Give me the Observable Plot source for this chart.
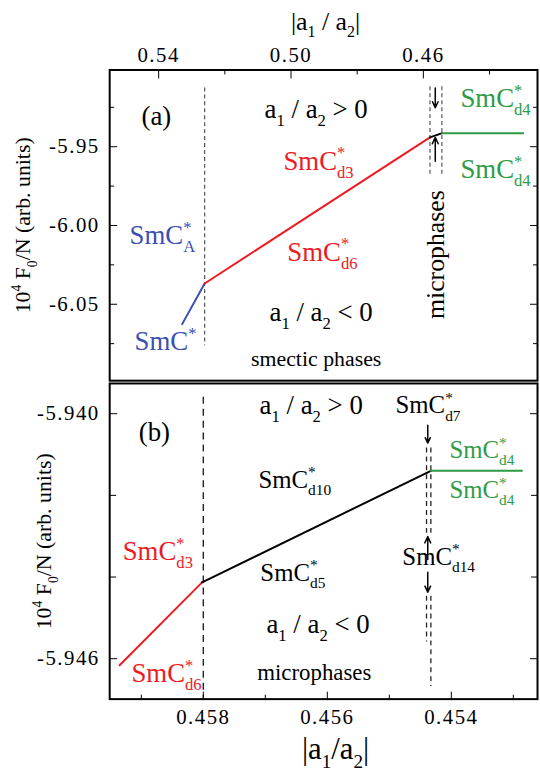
<!DOCTYPE html>
<html><head><meta charset="utf-8">
<script src="https://cdn.jsdelivr.net/npm/d3@7"></script>
<script src="https://cdn.jsdelivr.net/npm/@observablehq/plot@0.6"></script>
<style>
html,body{margin:0;padding:0;background:#fff;overflow:hidden;}
#wrap{position:relative;width:540px;height:774px;overflow:hidden;}
#wrap svg{position:absolute;left:0;}
g[aria-label$="tick label"] text{letter-spacing:1.5px;}
</style></head><body><div id="wrap"></div>
<script>
// ---------- titles ----------
const xTitleA = "|a_{1} / a_{2}|";
const xTitleB = "|a_{1}/a_{2}|";
const yTitle = "10^{4} F_{0}/N (arb. units)";

// ---------- ticks ----------
const aTicksXMajor = [0.54, 0.50, 0.46];
const aTicksXMinor = [0.52, 0.48, 0.44];
const aTicksYMajor = [-5.95, -6.00, -6.05];
const aTicksYMinor = [-5.925, -5.975, -6.025, -6.075];
const bTicksXMajor = [0.458, 0.456, 0.454];
const bTicksXMinor = [0.459, 0.457, 0.455, 0.453];
const bTicksYMajor = [-5.940, -5.946];
const bTicksYMinor = [-5.942, -5.944];

// ---------- panel (a): branches [|a1/a2|, F] ----------
const aBlue  = [[0.5329, -6.0626], [0.5261, -6.0368]];
const aRed   = [[0.5261, -6.0368], [0.4580, -5.9441]];
const aBlack = [[0.4580, -5.9441], [0.4543, -5.9414]];
const aGreen = [[0.4543, -5.9414], [0.4298, -5.9414]];
// dashed boundaries [x, yTop, yBottom]
const aDashes = [[0.5261, -5.9127, -6.0763], [0.4580, -5.9120, -5.9675], [0.4544, -5.9120, -5.9675]];
// arrows [x, yFrom, yTo]
const aArrows = [[0.4564, -5.9127, -5.9253], [0.4564, -5.9593, -5.9441]];
// labels [text, x, y]
const aLabelsRed   = [["SmC^{*}_{d3}", 0.5023, -5.9591], ["SmC^{*}_{d6}", 0.5011, -6.0168]];
const aLabelsBlue  = [["SmC^{*}_{A}", 0.5488, -6.0063], ["SmC^{*}", 0.5473, -6.0735]];
const aLabelsGreen = [["SmC^{*}_{d4}", 0.4488, -5.9192], ["SmC^{*}_{d4}", 0.4488, -5.9643]];
const aLabelsMid   = [["(a)", 0.5407, -5.9310], ["a_{1} / a_{2} > 0", 0.4924, -5.9263], ["a_{1} / a_{2} < 0", 0.4909, -6.0554]];
const aLabelsSmall = [["smectic phases", 0.4924, -6.0846]];
const aLabelsRot   = [["microphases", 0.4564, -6.0185]];

// ---------- panel (b) ----------
const bRed   = [[0.45935, -5.94616], [0.45802, -5.94413]];
const bBlack = [[0.45802, -5.94413], [0.45433, -5.94140]];
const bGreen = [[0.45433, -5.94140], [0.45286, -5.94140]];
const bDashesLong = [[0.45800, -5.93960, -5.94697]];
const bDashesShort = [[0.45440, -5.94084, -5.94301], [0.45433, -5.94084, -5.94301],
                      [0.45440, -5.94447, -5.94559], [0.45433, -5.94447, -5.94668]];
const bArrows = [[0.45438, -5.94028, -5.94072], [0.45438, -5.94357, -5.94301], [0.45438, -5.94388, -5.94437]];
const bLabelsRed   = [["SmC^{*}_{d3}", 0.45930, -5.94337], ["SmC^{*}_{d6}", 0.45916, -5.94636]];
const bLabelsGreen = [["SmC^{*}_{d4}", 0.45403, -5.94089], ["SmC^{*}_{d4}", 0.45403, -5.94187]];
const bLabelsBlack = [["SmC^{*}_{d7}", 0.45490, -5.93980], ["SmC^{*}_{d10}", 0.45711, -5.94162],
                      ["SmC^{*}_{d5}", 0.45708, -5.94390], ["SmC^{*}_{d14}", 0.45479, -5.94350]];
const bLabelsMid   = [["(b)", 0.45879, -5.94045], ["a_{1} / a_{2} > 0", 0.45626, -5.93980], ["a_{1} / a_{2} < 0", 0.45615, -5.94515]];
const bLabelsSmall = [["microphases", 0.45621, -5.94634]];

// ---------- styling ----------
const FONT = '"Liberation Serif", "Times New Roman", Times, serif';
const RED = "#ec1c24", BLUE = "#3b4fb4", GREEN = "#2e9b45";

const px = d => d[0], py = d => d[1];
const line = (data, stroke) => Plot.line(data, {x: px, y: py, stroke, strokeWidth: 2});
const lbl = (data, o) => Plot.text(data, {x: d => d[1], y: d => d[2], text: d => d[0], fontFamily: FONT, ...o});
const dashes = (data, o) => Plot.ruleX(data, {x: d => d[0], y1: d => d[1], y2: d => d[2], ...o});
const arrows = data => Plot.arrow(data, {x1: d => d[0], x2: d => d[0], y1: d => d[1], y2: d => d[2],
  stroke: "black", strokeWidth: 1.5, headLength: 7, headAngle: 50});
const blank = () => "";
const title = (s, o) => Plot.text([s], {text: d => d, textAnchor: "middle", lineAnchor: "middle", fontFamily: FONT, ...o});

function yAxes(major, minor, fmt, minorSize) {
  return [
    Plot.axisY({ticks: major, anchor: "left", tickSize: -8, tickPadding: 18, tickFormat: fmt, fontSize: 21}),
    Plot.axisY({ticks: minor, anchor: "left", tickSize: -minorSize, tickFormat: blank}),
    Plot.axisY({ticks: major, anchor: "right", tickSize: -8, tickFormat: blank}),
    Plot.axisY({ticks: minor, anchor: "right", tickSize: -minorSize, tickFormat: blank})
  ];
}

const plotA = Plot.plot({
  width: 544, height: 386, marginLeft: 110, marginRight: 3, marginTop: 70, marginBottom: 3,
  x: {domain: [0.5548, 0.4255], axis: null},
  y: {domain: [-6.0985, -5.9013], axis: null},
  style: {fontFamily: FONT, fontSize: "20px", color: "black", background: "transparent", overflow: "visible"},
  marks: [
    dashes(aDashes, {stroke: "#555", strokeWidth: 1.2, strokeDasharray: "4,3"}),
    line(aBlue, BLUE), line(aRed, RED), line(aBlack, "black"), line(aGreen, GREEN),
    arrows(aArrows),
    Plot.axisX({ticks: aTicksXMajor, anchor: "top", tickSize: -8, tickPadding: 16, tickFormat: d => d.toFixed(2), fontSize: 21}),
    Plot.axisX({ticks: aTicksXMinor, anchor: "top", tickSize: -4, tickFormat: blank}),
    ...yAxes(aTicksYMajor, aTicksYMinor, d => d.toFixed(2), 5),
    Plot.frame({strokeWidth: 2}),
    lbl(aLabelsRed, {fill: RED, fontSize: 27, textAnchor: "start"}),
    lbl(aLabelsBlue, {fill: BLUE, fontSize: 27, textAnchor: "start"}),
    lbl(aLabelsGreen, {fill: GREEN, fontSize: 27, textAnchor: "start"}),
    lbl(aLabelsMid, {fill: "black", fontSize: 27}),
    lbl(aLabelsSmall, {fill: "black", fontSize: 22}),
    lbl(aLabelsRot, {fill: "black", fontSize: 26, rotate: -90}),
    title(xTitleA, {frameAnchor: "top", dy: -49, dx: 2, fontSize: 26}),
    title(yTitle, {frameAnchor: "left", dx: -87, rotate: -90, fontSize: 22})
  ]
});

const plotB = Plot.plot({
  width: 544, height: 394, marginLeft: 110, marginRight: 3, marginTop: 3, marginBottom: 73,
  x: {domain: [0.45951, 0.45261], axis: null},
  y: {domain: [-5.94699, -5.93926], axis: null},
  style: {fontFamily: FONT, fontSize: "20px", color: "black", background: "transparent", overflow: "visible"},
  marks: [
    dashes(bDashesLong, {stroke: "#222", strokeWidth: 1.4, strokeDasharray: "7,5"}),
    dashes(bDashesShort, {stroke: "#222", strokeWidth: 1.3, strokeDasharray: "5,4"}),
    line(bRed, RED), line(bBlack, "black"), line(bGreen, GREEN),
    arrows(bArrows),
    Plot.axisX({ticks: bTicksXMajor, anchor: "bottom", tickSize: -7, tickPadding: 17, tickFormat: d => d.toFixed(3), fontSize: 21}),
    Plot.axisX({ticks: bTicksXMinor, anchor: "bottom", tickSize: -4, tickFormat: blank}),
    ...yAxes(bTicksYMajor, bTicksYMinor, d => d.toFixed(3), 7),
    Plot.frame({strokeWidth: 2}),
    lbl(bLabelsRed, {fill: RED, fontSize: 27, textAnchor: "start"}),
    lbl(bLabelsGreen, {fill: GREEN, fontSize: 25, textAnchor: "start"}),
    lbl(bLabelsBlack, {fill: "black", fontSize: 25, textAnchor: "start"}),
    lbl(bLabelsMid, {fill: "black", fontSize: 27}),
    lbl(bLabelsSmall, {fill: "black", fontSize: 23}),
    title(xTitleB, {frameAnchor: "bottom", dy: 50, dx: 12, fontSize: 31}),
    title(yTitle, {frameAnchor: "left", dx: -66, rotate: -90, fontSize: 22})
  ]
});

const wrap = document.getElementById("wrap");
plotA.style.top = "0px";
plotB.style.top = "380px";
wrap.appendChild(plotA);
wrap.appendChild(plotB);

// ---------- rich text: ^{sup} and _{sub} ----------
const ctx = document.createElement("canvas").getContext("2d");
function measure(s, size) { ctx.font = `${size}px "Liberation Serif"`; return ctx.measureText(s).width; }
function richify(svg) {
  for (const t of svg.querySelectorAll("text")) {
    const s = t.textContent;
    if (!/[\^_]\{/.test(s)) continue;
    const fs = parseFloat(getComputedStyle(t).fontSize);
    const small = fs * 0.62;
    const parts = s.split(/([\^_]\{[^}]*\})/).filter(p => p !== "");
    while (t.firstChild) t.removeChild(t.firstChild);
    let shift = 0, prevSupW = null;
    for (const p of parts) {
      const ts = document.createElementNS("http://www.w3.org/2000/svg", "tspan");
      let txt = p, target = 0, isSup = false, isSub = false;
      if (p.startsWith("^{")) { txt = p.slice(2, -1); target = -0.42 * fs; isSup = true; }
      else if (p.startsWith("_{")) { txt = p.slice(2, -1); target = 0.3 * fs; isSub = true; }
      if (isSup || isSub) ts.setAttribute("font-size", small);
      if (target !== shift) ts.setAttribute("dy", target - shift);
      if (isSub && prevSupW != null) ts.setAttribute("dx", -prevSupW);
      shift = target;
      prevSupW = isSup ? measure(txt, small) : null;
      ts.textContent = txt;
      t.appendChild(ts);
    }
  }
}
richify(plotA);
richify(plotB);
</script></body></html>
